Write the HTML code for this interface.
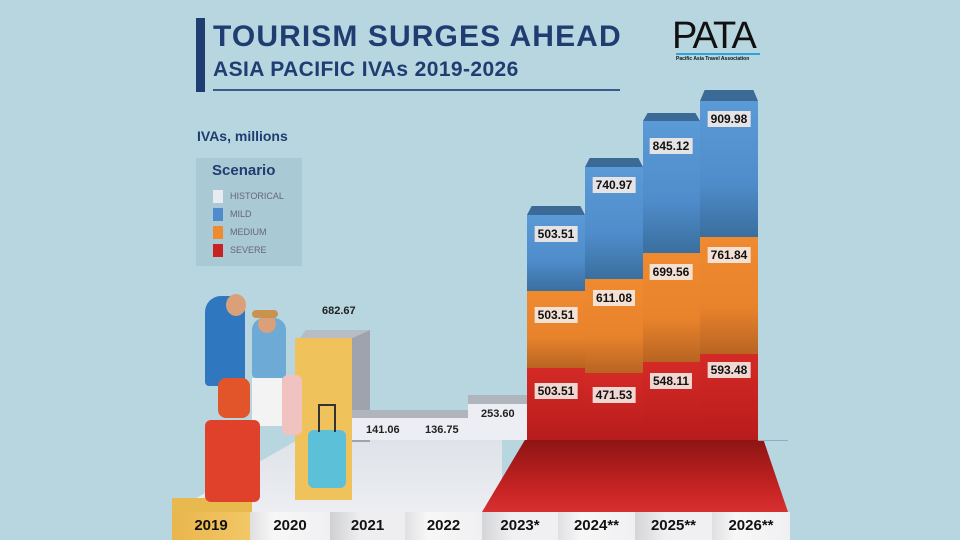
<!DOCTYPE html>
<html><head><meta charset="utf-8"><style>
*{margin:0;padding:0;box-sizing:border-box}
body{width:960px;height:540px;overflow:hidden;background:#b7d6e0;font-family:"Liberation Sans",sans-serif;position:relative}
.a{position:absolute}
.lbl{position:absolute;background:rgba(245,235,230,0.9);color:#111;font-weight:bold;font-size:12px;padding:1px 3px;transform:translateX(-50%);line-height:14px}
.blue{background:linear-gradient(#5a9ad6 0%,#4f8ccb 60%,#3a6f9e 100%)}
.org{background:linear-gradient(#f08a30 0%,#e8832c 60%,#b86422 100%)}
.red{background:linear-gradient(#d42a26,#b81c1c)}
.cell{position:absolute;top:512px;height:28px;font-weight:bold;font-size:15px;color:#111;text-align:center;line-height:28px;background:linear-gradient(90deg,#e0e0e2,#f7f7f8 30%,#f0f0f2)}
.cap{position:absolute;background:#3c6a96;clip-path:polygon(8% 0,92% 0,100% 100%,0 100%)}
</style></head><body>
<div class="a" style="left:196px;top:18px;width:9px;height:74px;background:#1f3d70"></div>
<div class="a" style="left:213px;top:20px;font-size:30px;font-weight:900;color:#1f3d70;letter-spacing:1.1px;line-height:34px">TOURISM SURGES AHEAD</div>
<div class="a" style="left:213px;top:57px;font-size:21px;font-weight:900;color:#1f3d70;letter-spacing:0.4px;line-height:26px">ASIA PACIFIC IVAs 2019-2026</div>
<div class="a" style="left:213px;top:89px;width:407px;height:2px;background:#3a5a8c"></div>
<div class="a" style="left:672px;top:16px;font-size:38px;color:#111;letter-spacing:-2px;line-height:40px">PATA</div>
<div class="a" style="left:676px;top:53px;width:84px;height:2px;background:#29a5d8"></div>
<div class="a" style="left:676px;top:56px;font-size:5px;color:#111;font-weight:bold">Pacific Asia Travel Association</div>
<div class="a" style="left:197px;top:128px;font-size:14px;font-weight:bold;color:#1f3d70">IVAs, millions</div>
<div class="a" style="left:196px;top:158px;width:106px;height:108px;background:#a9cad5"></div>
<div class="a" style="left:212px;top:162px;font-size:15px;font-weight:bold;color:#1f3d70">Scenario</div>
<div class="a" style="left:213px;top:190px;width:10px;height:13px;background:#e8ecf2"></div>
<div class="a" style="left:213px;top:208px;width:10px;height:13px;background:#4f8ccb"></div>
<div class="a" style="left:213px;top:226px;width:10px;height:13px;background:#ef8a30"></div>
<div class="a" style="left:213px;top:244px;width:10px;height:13px;background:#c82222"></div>
<div class="a" style="left:230px;top:191px;font-size:9px;color:#667">HISTORICAL</div>
<div class="a" style="left:230px;top:209px;font-size:9px;color:#667">MILD</div>
<div class="a" style="left:230px;top:227px;font-size:9px;color:#667">MEDIUM</div>
<div class="a" style="left:230px;top:245px;font-size:9px;color:#667">SEVERE</div>

<div class="a" style="left:172px;top:440px;width:330px;height:72px;background:linear-gradient(#dfe2e8,#eceef2);clip-path:polygon(38% 0,100% 0,100% 100%,0 100%)"></div>
<div class="a" style="left:482px;top:440px;width:306px;height:72px;background:linear-gradient(#8e1414,#c82424 70%,#d83030);clip-path:polygon(14% 0,92% 0,100% 100%,0 100%)"></div>
<div class="a" style="left:172px;top:498px;width:80px;height:14px;background:#e8b94e"></div>

<div class="a" style="left:295px;top:338px;width:57px;height:162px;background:#f0c25c"></div>
<div class="a" style="left:352px;top:330px;width:18px;height:112px;background:#9fa3ad;clip-path:polygon(0 7%,100% 0,100% 100%,0 100%)"></div>
<div class="a" style="left:300px;top:330px;width:70px;height:8px;background:#b8bcc5;clip-path:polygon(8% 0,100% 0,75% 100%,0 100%)"></div>
<div class="a" style="left:352px;top:410px;width:116px;height:8px;background:#b0b4bd"></div>
<div class="a" style="left:352px;top:418px;width:116px;height:22px;background:#eceef4"></div>
<div class="a" style="left:468px;top:395px;width:59px;height:9px;background:#b0b4bd"></div>
<div class="a" style="left:468px;top:404px;width:59px;height:36px;background:#eceef4"></div>
<div class="a" style="left:322px;top:305px;font-size:11px;font-weight:bold;color:#222">682.67</div>
<div class="a" style="left:366px;top:424px;font-size:11px;font-weight:bold;color:#222">141.06</div>
<div class="a" style="left:425px;top:424px;font-size:11px;font-weight:bold;color:#222">136.75</div>
<div class="a" style="left:481px;top:408px;font-size:11px;font-weight:bold;color:#222">253.60</div>

<div class="a" style="left:205px;top:296px;width:40px;height:90px;background:#2f78c0;border-radius:16px 16px 4px 4px"></div>
<div class="a" style="left:226px;top:294px;width:20px;height:22px;background:#d9a07a;border-radius:50%"></div>
<div class="a" style="left:252px;top:318px;width:34px;height:60px;background:#6eaad6;border-radius:12px 12px 4px 4px"></div>
<div class="a" style="left:258px;top:315px;width:18px;height:18px;background:#d9a07a;border-radius:50%"></div>
<div class="a" style="left:252px;top:310px;width:26px;height:8px;background:#c9934f;border-radius:6px"></div>
<div class="a" style="left:252px;top:378px;width:30px;height:48px;background:#f3f3f3"></div>
<div class="a" style="left:282px;top:375px;width:20px;height:60px;background:#f0c2c0;border-radius:6px"></div>
<div class="a" style="left:218px;top:378px;width:32px;height:40px;background:#e2542a;border-radius:8px"></div>
<div class="a" style="left:205px;top:420px;width:55px;height:82px;background:#e0412a;border-radius:6px"></div>
<div class="a" style="left:308px;top:430px;width:38px;height:58px;background:#5cc0d8;border-radius:6px"></div>
<div class="a" style="left:318px;top:404px;width:18px;height:28px;border:2px solid #333;border-bottom:none"></div>

<div class="cap" style="left:527px;top:206px;width:58px;height:9px"></div>
<div class="cap" style="left:585px;top:158px;width:58px;height:9px"></div>
<div class="cap" style="left:643px;top:113px;width:57px;height:8px"></div>
<div class="cap" style="left:700px;top:90px;width:58px;height:11px"></div>
<div class="a blue" style="left:527px;top:215px;width:58px;height:76px"></div>
<div class="a blue" style="left:585px;top:167px;width:58px;height:112px"></div>
<div class="a blue" style="left:643px;top:121px;width:57px;height:132px"></div>
<div class="a blue" style="left:700px;top:101px;width:58px;height:136px"></div>
<div class="a org" style="left:527px;top:291px;width:58px;height:77px"></div>
<div class="a org" style="left:585px;top:279px;width:58px;height:94px"></div>
<div class="a org" style="left:643px;top:253px;width:57px;height:109px"></div>
<div class="a org" style="left:700px;top:237px;width:58px;height:117px"></div>
<div class="a red" style="left:527px;top:368px;width:58px;height:72px"></div>
<div class="a red" style="left:585px;top:373px;width:58px;height:67px"></div>
<div class="a red" style="left:643px;top:362px;width:57px;height:78px"></div>
<div class="a red" style="left:700px;top:354px;width:58px;height:86px"></div>
<div class="a" style="left:758px;top:440px;width:30px;height:1px;background:#9ab"></div>

<div class="lbl" style="left:556px;top:226px">503.51</div>
<div class="lbl" style="left:556px;top:307px">503.51</div>
<div class="lbl" style="left:556px;top:383px">503.51</div>
<div class="lbl" style="left:614px;top:177px">740.97</div>
<div class="lbl" style="left:614px;top:290px">611.08</div>
<div class="lbl" style="left:614px;top:387px">471.53</div>
<div class="lbl" style="left:671px;top:138px">845.12</div>
<div class="lbl" style="left:671px;top:264px">699.56</div>
<div class="lbl" style="left:671px;top:373px">548.11</div>
<div class="lbl" style="left:729px;top:111px">909.98</div>
<div class="lbl" style="left:729px;top:247px">761.84</div>
<div class="lbl" style="left:729px;top:362px">593.48</div>

<div class="cell" style="left:172px;width:78px;background:linear-gradient(90deg,#e9b64c,#f2c766)">2019</div>
<div class="cell" style="left:250px;width:80px">2020</div>
<div class="cell" style="left:330px;width:75px;background:linear-gradient(90deg,#cfd0d3,#eeeef0 40%)">2021</div>
<div class="cell" style="left:405px;width:77px">2022</div>
<div class="cell" style="left:482px;width:76px;background:linear-gradient(90deg,#d4d5d8,#f0f0f2 40%)">2023*</div>
<div class="cell" style="left:558px;width:77px">2024**</div>
<div class="cell" style="left:635px;width:77px;background:linear-gradient(90deg,#d4d5d8,#f0f0f2 40%)">2025**</div>
<div class="cell" style="left:712px;width:78px">2026**</div>
</body></html>
